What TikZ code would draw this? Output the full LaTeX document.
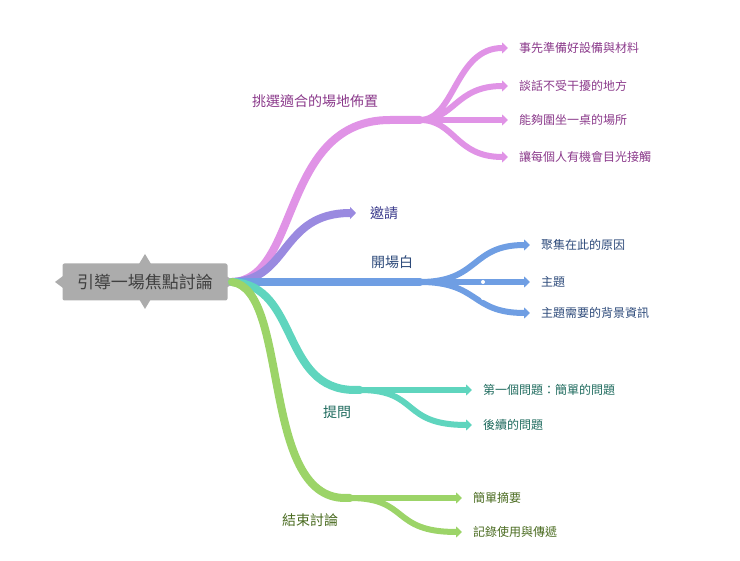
\documentclass[tikz,border=0pt]{standalone}
\usepackage{fontspec}
\setmainfont{Noto Sans CJK TC}
\usetikzlibrary{positioning,arrows.meta,shapes.geometric}
\definecolor{pinkb}{HTML}{E093E6}
\definecolor{violb}{HTML}{9A8AE0}
\definecolor{blueb}{HTML}{6F9EE3}
\definecolor{tealb}{HTML}{5FD5BE}
\definecolor{greenb}{HTML}{9CD468}
\definecolor{pinkt}{HTML}{8B3A8B}
\definecolor{violt}{HTML}{3B3B8C}
\definecolor{bluet}{HTML}{2D4A7A}
\definecolor{tealt}{HTML}{1F6B5E}
\definecolor{greent}{HTML}{4A6B20}
\tikzset{
  leaf/.style={anchor=west,font=\fontsize{12}{14}\selectfont,inner sep=1pt},
  topic/.style={font=\fontsize{14}{16}\selectfont,inner sep=1pt},
  br/.style={line width=8pt,line cap=round},
  tw/.style={line width=6pt,-{Triangle[length=6pt,width=11pt]}},
}
\begin{document}
\begin{tikzpicture}[x=1pt,y=-1pt]
\useasboundingbox (0,0) rectangle (740,561);

% root
\fill[gray!65] (145,254) -- (151,264) -- (139,264) -- cycle
  (145,309) -- (151,299) -- (139,299) -- cycle
  (55,282) -- (63,276) -- (63,288) -- cycle
  (236,282) -- (226,276) -- (226,288) -- cycle;
\node[fill=gray!65,rounded corners=2pt,minimum width=165pt,minimum height=37pt,
  text=black!75,font=\fontsize{17}{19}\selectfont] (root) at (145,282) {引導一場焦點討論};
\coordinate (o) at (232,282);

% branch 1
\draw[br,pinkb] (o) .. controls (300,280) and (280,120) .. (390,120) coordinate (h1) -- (420,120) coordinate (k1);
\node[topic,text=pinkt] (t1) at (315,101) {挑選適合的場地佈置};
\foreach \y/\txt [count=\i] in {48/事先準備好設備與材料,86/談話不受干擾的地方,120/能夠圍坐一桌的場所,157/讓每個人有機會目光接觸}{
  \node[leaf,text=pinkt] (l1\i) at (518,\y) {\txt};
  \draw[tw,pinkb] (k1) .. controls (455,120) and (455,\y) .. (508,\y);
}

% branch 2
\draw[br,violb,line cap=butt,-{Triangle[length=6pt,width=12pt]}] (o) .. controls (290,280) and (280,213) .. (356,213);
\node[topic,text=violt] (t2) at (384,213) {邀請};

% branch 3
\draw[br,blueb] (o) -- (420,282) coordinate (k3);
\node[topic,text=bluet] (t3) at (392,262) {開場白};
\foreach \y/\txt [count=\i] in {245/聚集在此的原因,282/主題,313/主題需要的背景資訊}{
  \node[leaf,text=bluet] (l3\i) at (540,\y) {\txt};
  \draw[tw,blueb] (k3) .. controls (480,282) and (470,\y) .. (530,\y);
}
\fill[white] (483,282) circle (2pt) (483,298) circle (2pt);

% branch 4
\draw[br,tealb] (o) .. controls (300,285) and (280,390) .. (355,390) -- (360,390) coordinate (k4);
\node[topic,text=tealt] (t4) at (337,412) {提問};
\foreach \y/\txt [count=\i] in {390/第一個問題：簡單的問題,425/後續的問題}{
  \node[leaf,text=tealt] (l4\i) at (482,\y) {\txt};
  \draw[tw,tealb] (k4) .. controls (420,390) and (400,\y) .. (472,\y);
}

% branch 5
\draw[br,greenb] (o) .. controls (290,290) and (260,498) .. (345,498) -- (350,498) coordinate (k5);
\node[topic,text=greent] (t5) at (310,520) {結束討論};
\foreach \y/\txt [count=\i] in {498/簡單摘要,532/記錄使用與傳遞}{
  \node[leaf,text=greent] (l5\i) at (472,\y) {\txt};
  \draw[tw,greenb] (k5) .. controls (410,498) and (390,\y) .. (462,\y);
}
\end{tikzpicture}
\end{document}
